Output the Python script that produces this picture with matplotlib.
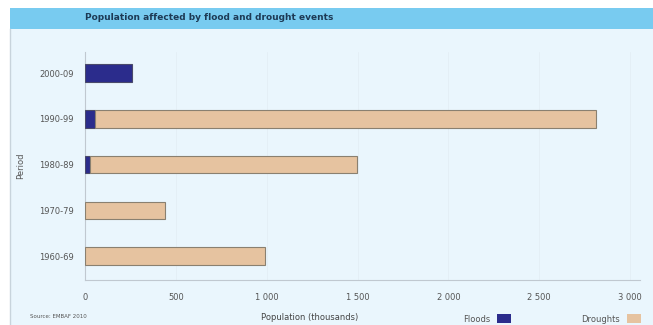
import matplotlib
matplotlib.use("Agg")
import matplotlib.pyplot as plt
from matplotlib.patches import Rectangle

periods = ["1960-69", "1970-79", "1980-89", "1990-99", "2000-09"]
floods = [0, 0, 28, 55, 260]
droughts = [990, 440, 1470, 2757, 0]
xticks = [0, 500, 1000, 1500, 2000, 2500, 3000]
xticklabels = ["0", "500", "1 000", "1 500", "2 000", "2 500", "3 000"]

bg = "#eaf6fd"
flood_c = "#2b2c8c"
drought_c = "#e6c3a0"

fig = plt.figure(figsize=(6.53, 3.25), dpi=100, facecolor="white")
W, H = 653, 325
fig.patches.append(Rectangle((10 / W, 0), 1 - 10 / W, 1 - 8 / H, transform=fig.transFigure,
                             facecolor=bg, edgecolor="none", zorder=-10))
fig.patches.append(Rectangle((10 / W, 1 - 29 / H), 1 - 10 / W, 21 / H, transform=fig.transFigure,
                             facecolor="#78cbf0", edgecolor="none", zorder=-9))
fig.add_artist(plt.Line2D([10 / W, 10 / W], [0, 1 - 29 / H], transform=fig.transFigure,
                          color="#c8d4dc", lw=1, zorder=-8))
fig.text(85 / W, 1 - 18 / H, "Population affected by flood and drought events",
         fontsize=6.5, fontweight="bold", color="#1d3a55", va="center", ha="left")

ax = fig.add_axes([85 / W, 1 - 280 / H, 555 / W, 228 / H])
ax.set_facecolor(bg)
ypos = list(range(len(periods)))
h = 0.38
fw = [0.8 if v > 0 else 0 for v in floods]
dw = [0.8 if v > 0 else 0 for v in droughts]
ax.barh(ypos, floods, height=h, color=flood_c, edgecolor="#4a4a6a", linewidth=fw, zorder=3)
ax.barh(ypos, droughts, left=floods, height=h, color=drought_c, edgecolor="#8a8070",
        linewidth=dw, zorder=3)
ax.set_xlim(0, 3055)
ax.set_ylim(-0.52, 4.46)
ax.set_yticks(ypos)
ax.set_yticklabels(periods, fontsize=6, color="#555555")
ax.set_xticks(xticks)
ax.set_xticklabels(xticklabels, fontsize=6, color="#555555")
ax.tick_params(length=0, pad=8)
ax.tick_params(axis="x", pad=9)
for s in ["top", "right"]:
    ax.spines[s].set_visible(False)
ax.spines["left"].set_color("#c0c8d0")
ax.spines["bottom"].set_color("#c0c8d0")
ax.grid(axis="x", color="#e2edf4", lw=0.5, zorder=0)
ax.set_ylabel("Period", fontsize=6, color="#555555", labelpad=10)

fig.text(310 / W, 1 - 317 / H, "Population (thousands)", fontsize=6, color="#444444",
         ha="center", va="center")
fig.text(30 / W, 1 - 316 / H, "Source: EMBAF 2010", fontsize=4, color="#555555",
         ha="left", va="center")
fig.text(490 / W, 1 - 319 / H, "Floods", fontsize=6, color="#555555", ha="right", va="center")
fig.patches.append(Rectangle((497 / W, 1 - 323 / H), 14 / W, 9 / H, transform=fig.transFigure,
                             facecolor=flood_c, edgecolor="none", zorder=3))
fig.text(620 / W, 1 - 319 / H, "Droughts", fontsize=6, color="#555555", ha="right", va="center")
fig.patches.append(Rectangle((627 / W, 1 - 323 / H), 14 / W, 9 / H, transform=fig.transFigure,
                             facecolor=drought_c, edgecolor="none", zorder=3))

fig.savefig("out.png", dpi=100, facecolor="white")
